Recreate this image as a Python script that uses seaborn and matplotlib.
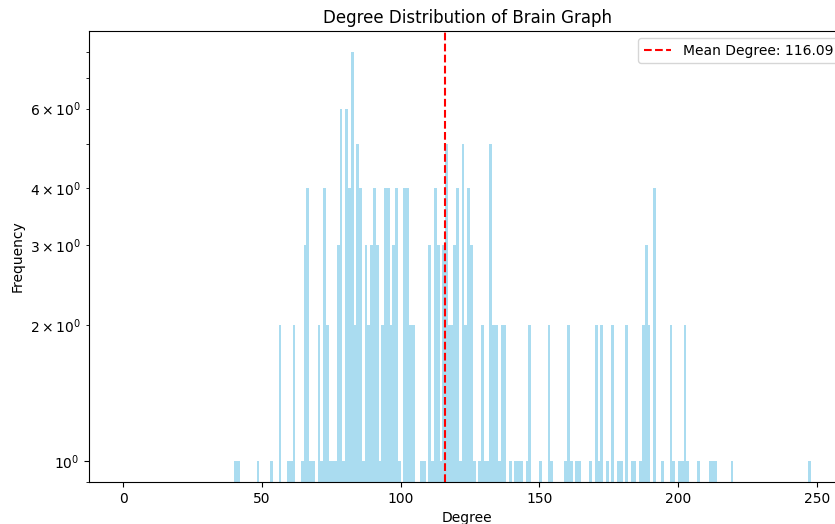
import numpy as np
import matplotlib
matplotlib.use("Agg")
import matplotlib.pyplot as plt
import seaborn as sns

# node degree -> how many nodes have that degree
degree_values = [40, 41, 48, 53, 56, 59, 60, 61, 64, 65,
                 66, 67, 68, 70, 71, 72, 73, 74, 75, 76,
                 77, 78, 79, 80, 81, 82, 83, 84, 85, 86,
                 87, 88, 89, 90, 91, 92, 93, 94, 95, 96,
                 97, 98, 99, 101, 102, 103, 104, 107, 108, 110,
                 111, 112, 113, 114, 115, 116, 117, 118, 119, 120,
                 121, 122, 123, 124, 125, 126, 128, 129, 130, 131,
                 132, 133, 134, 135, 136, 137, 139, 141, 142, 143,
                 145, 146, 150, 153, 154, 159, 160, 161, 163, 164,
                 168, 170, 171, 172, 174, 176, 178, 179, 181, 183,
                 184, 186, 187, 188, 189, 191, 194, 197, 198, 200,
                 201, 202, 203, 207, 211, 212, 213, 219, 247]
node_counts = [1, 1, 1, 1, 2, 1, 1, 2, 1, 3,
               4, 1, 1, 2, 1, 4, 2, 1, 1, 1,
               3, 6, 1, 6, 4, 8, 2, 5, 4, 1,
               3, 2, 3, 4, 3, 1, 2, 4, 4, 2,
               3, 4, 1, 4, 4, 2, 2, 1, 1, 3,
               1, 4, 3, 1, 3, 5, 2, 2, 3, 4,
               1, 5, 2, 4, 3, 1, 1, 2, 1, 1,
               5, 2, 2, 1, 2, 2, 1, 1, 1, 1,
               1, 2, 1, 2, 1, 1, 2, 1, 1, 1,
               1, 2, 1, 2, 1, 2, 1, 1, 2, 1,
               1, 1, 2, 3, 2, 4, 1, 2, 1, 1,
               1, 2, 1, 1, 1, 1, 1, 1, 1]
mean_degree = 116.09

degrees = np.repeat(degree_values, node_counts)

fig = plt.figure(figsize=(8.35, 5.24), dpi=100)
# the source image is cropped on the right, so the axes run past the edge
ax = fig.add_axes([0.1066, 0.0802, 0.906, 0.8606])

sns.histplot(x=degrees, bins=np.arange(0, max(degree_values) + 2),
             color="skyblue", alpha=0.7, linewidth=0, ax=ax)
ax.axvline(mean_degree, color="red", linestyle="--",
           label=f"Mean Degree: {mean_degree:.2f}")

ax.set_yscale("log")
ax.set_ylim(0.9, 8.9)
ax.set_title("Degree Distribution of Brain Graph")
ax.set_xlabel("Degree")
ax.set_ylabel("Frequency")
ax.legend(loc="upper right")

fig.savefig("out.png", dpi=100)
